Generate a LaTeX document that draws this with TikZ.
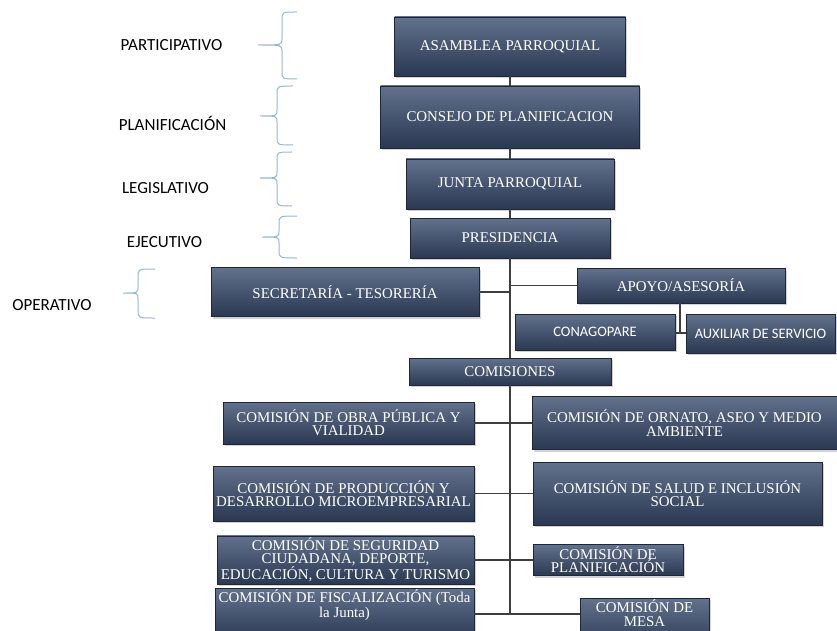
\documentclass[tikz,border=0pt]{standalone}
\usepackage{fontspec}
\setmainfont{Liberation Serif}
\newfontfamily\lblfont{Carlito}
\usetikzlibrary{shadows}

\definecolor{boxtop}{RGB}{98,113,140}
\definecolor{boxbot}{RGB}{42,56,82}
\definecolor{bracecol}{RGB}{150,180,214}
\definecolor{linecol}{RGB}{62,62,62}

\tikzset{
  box/.style={top color=boxtop, bottom color=boxbot, draw=boxbot!70!black,
    line width=0.4pt, text=white, align=center, inner sep=2pt,
    font=\fontsize{14.9}{13.3}\selectfont,
    drop shadow={shadow xshift=1.5pt, shadow yshift=-2pt, opacity=0.35}},
  sbox/.style={box, font=\lblfont\fontsize{14.5}{14}\selectfont},
  lbl/.style={font=\lblfont\fontsize{17}{18}\selectfont},
  conn/.style={draw=linecol, line width=1.3pt},
  lvl/.style={draw=bracecol, line width=1pt}
}

\begin{document}
\begin{tikzpicture}[x=1pt,y=-1pt]
  \clip (0,0) rectangle (837,631);

  % niveles
  \node[lbl] (participativo) at (171.5,45) {PARTICIPATIVO};
  \node[lbl] (planificacion) at (172.5,123) {PLANIFICACIÓN};
  \node[lbl] (legislativo) at (165.5,188) {LEGISLATIVO};
  \node[lbl] (ejecutivo) at (164.5,242) {EJECUTIVO};
  \node[lbl] (operativo) at (52,305) {OPERATIVO};

  \foreach \xr/\yt/\ym/\yb/\xt/\xs in {297/12/45/79/258/282, 293/86/116/145/260/277,
      292/152/178/206/260/277, 297/216/237/258/262/279, 155/269/293/318/123/138}
    \draw[lvl] (\xr,\yt) .. controls (\xs,\yt) .. (\xs,\yt+8) -- (\xs,\ym-6)
      .. controls (\xs,\ym) .. (\xt,\ym) .. controls (\xs,\ym) .. (\xs,\ym+6)
      -- (\xs,\yb-8) .. controls (\xs,\yb) .. (\xr,\yb);

  % cuerpo de gobierno
  \node[box, minimum width=231pt, minimum height=59pt] (asamblea) at (510,46.5) {ASAMBLEA PARROQUIAL};
  \node[box, minimum width=259pt, minimum height=62pt] (consejo) at (510,117) {CONSEJO DE PLANIFICACION};
  \node[box, minimum width=208pt, minimum height=50pt] (junta) at (510,184) {JUNTA PARROQUIAL};
  \node[box, minimum width=200pt, minimum height=40pt] (presidencia) at (510,238) {PRESIDENCIA};

  \node[box, minimum width=268pt, minimum height=49pt] (secretaria) at (345,292) {SECRETARÍA - TESORERÍA};
  \node[box, minimum width=208pt, minimum height=35pt] (apoyo) at (681,285.5) {APOYO/ASESORÍA};
  \node[sbox, minimum width=160pt, minimum height=36pt] (conagopare) at (595,332) {CONAGOPARE};
  \node[sbox, minimum width=149pt, minimum height=39pt] (auxiliar) at (760.5,333.5) {AUXILIAR DE SERVICIO};

  \node[box, minimum width=202pt, minimum height=27pt] (comisiones) at (510,371.5) {COMISIONES};

  % comisiones
  \node[box, minimum width=251pt, minimum height=42pt] (obra) at (348.5,423) {COMISIÓN DE OBRA PÚBLICA Y\\VIALIDAD};
  \node[box, minimum width=261pt, minimum height=55pt] (produccion) at (343.5,493.5) {COMISIÓN DE PRODUCCIÓN Y\\DESARROLLO MICROEMPRESARIAL};
  \node[box, minimum width=257pt, minimum height=47pt] (seguridad) at (345.5,560) {COMISIÓN DE SEGURIDAD\\CIUDADANA, DEPORTE,\\EDUCACIÓN, CULTURA Y TURISMO};
  \node[box, minimum width=259pt, text depth=22pt, anchor=north] (fiscalizacion) at (344.5,588) {COMISIÓN DE FISCALIZACIÓN (Toda\\la Junta)};

  \node[box, minimum width=305pt, minimum height=53pt] (ornato) at (684.5,423) {COMISIÓN DE ORNATO, ASEO Y MEDIO\\AMBIENTE};
  \node[box, minimum width=289pt, minimum height=63pt] (salud) at (677.5,493.5) {COMISIÓN DE SALUD E INCLUSIÓN\\SOCIAL};
  \node[box, minimum width=150pt, minimum height=31pt] (planif) at (608,560) {COMISIÓN DE\\PLANIFICACIÓN};
  \node[box, minimum width=129pt, text depth=22pt, anchor=north] (mesa) at (644.5,598) {COMISIÓN DE\\MESA};

  % conectores
  \coordinate (ap) at (680,333);
  \coordinate (fin) at (510,614);
  \begin{scope}[conn]
    \draw (asamblea) -- (consejo) -- (junta) -- (presidencia) -- (comisiones);
    \draw (secretaria.east) -- (secretaria.east -| fin);
    \draw (apoyo.west) -- (apoyo.west -| fin);
    \draw (apoyo.south -| ap) -- (ap);
    \draw (conagopare.east |- ap) -- (auxiliar.west |- ap);
    \draw (comisiones) -- (fin);
    \draw (obra.east) -- (obra.east -| fin);
    \draw (produccion.east) -- (produccion.east -| fin);
    \draw (seguridad.east) -- (seguridad.east -| fin);
    \draw (fin -| fiscalizacion.east) -- (fin);
    \draw (ornato.west) -- (ornato.west -| fin);
    \draw (salud.west) -- (salud.west -| fin);
    \draw (planif.west) -- (planif.west -| fin);
    \draw (fin -| mesa.west) -- (fin);
  \end{scope}
\end{tikzpicture}
\end{document}
